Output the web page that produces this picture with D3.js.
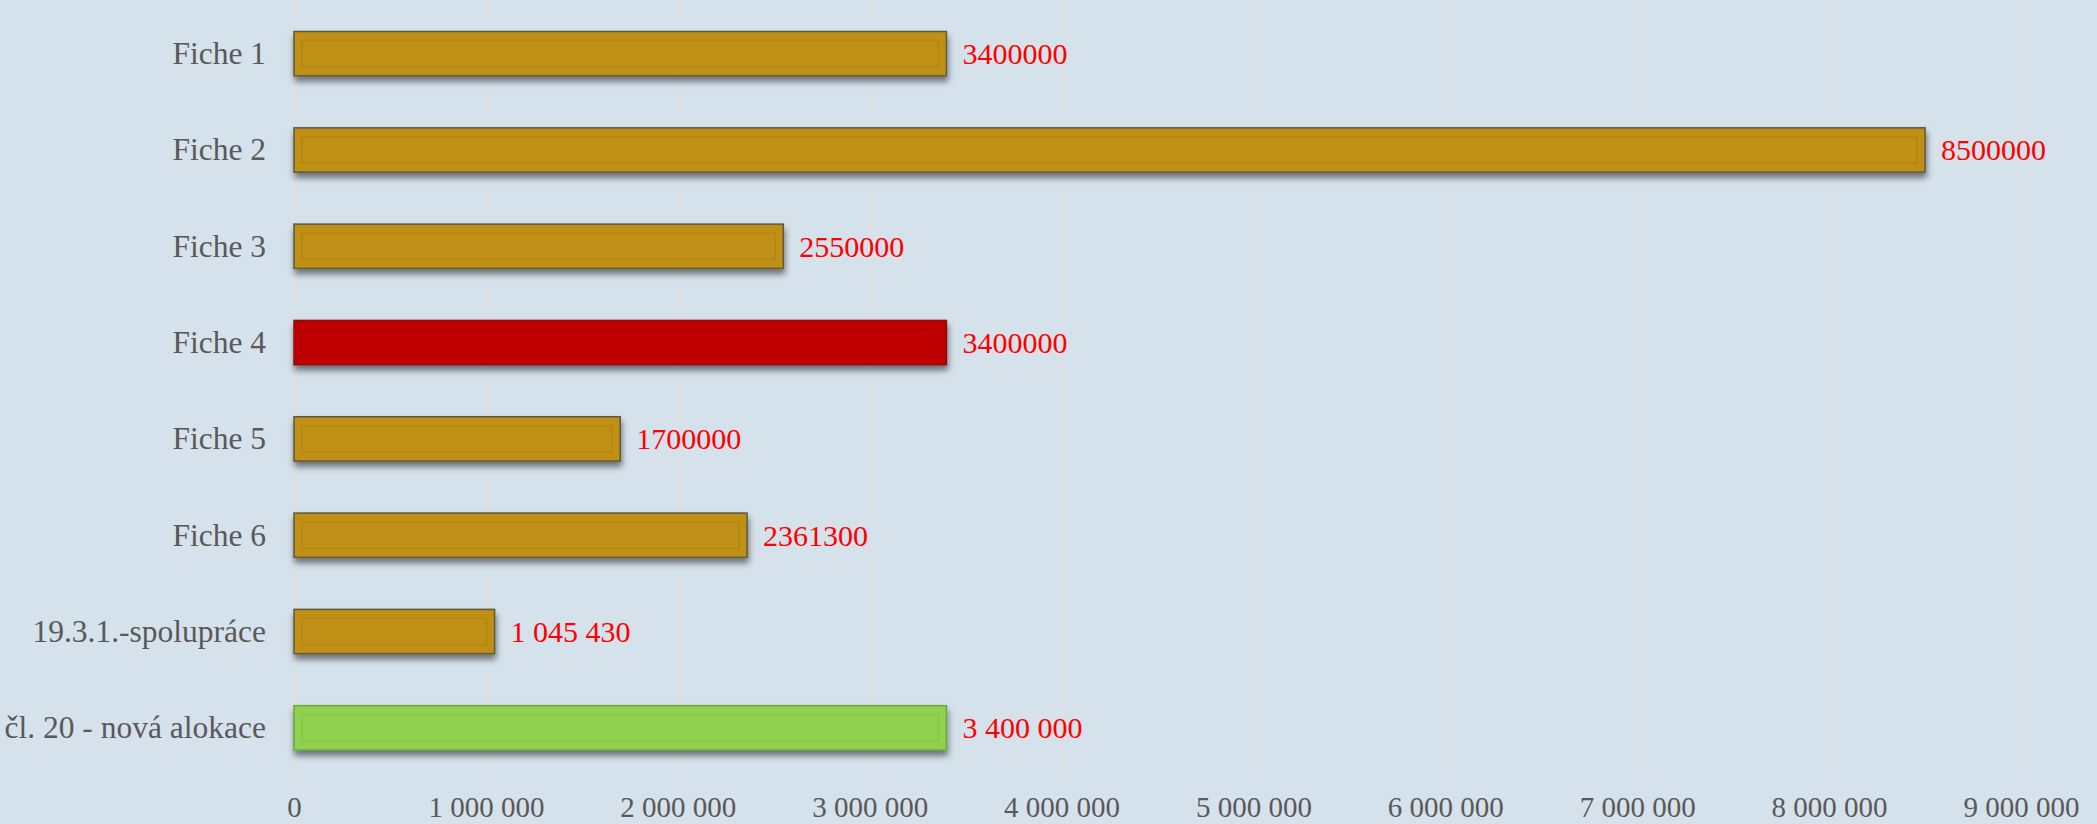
<!DOCTYPE html>
<html>
<head>
<meta charset="utf-8">
<script src="https://cdn.jsdelivr.net/npm/d3@7"></script>
<style>
  html, body { margin: 0; padding: 0; background: #d5e1eb; }
  svg { display: block; }
  .axis text { font-family: "Liberation Serif", serif; font-size: 29px; fill: #595959; }
  .axis.y text { font-size: 31.5px; }
  .grid line { stroke: #e3dede; stroke-width: 1.5; }
</style>
</head>
<body>
<svg id="chart" width="2097" height="824"></svg>
<script>
const categories = ["Fiche 1", "Fiche 2", "Fiche 3", "Fiche 4", "Fiche 5", "Fiche 6", "19.3.1.-spolupráce", "čl. 20 - nová alokace"];
const values = [3400000, 8500000, 2550000, 3400000, 1700000, 2361300, 1045430, 3400000];
const valueLabels = ["3400000", "8500000", "2550000", "3400000", "1700000", "2361300", "1 045 430", "3 400 000"];
const barKinds = ["gold", "gold", "gold", "red", "gold", "gold", "gold", "green"];
const xTicks = [0, 1000000, 2000000, 3000000, 4000000, 5000000, 6000000, 7000000, 8000000, 9000000];

const styles = {
  gold:  { fill: "#bf8f12", stroke: "#5f5a3c", inner: "#b3860f" },
  red:   { fill: "#c00000", stroke: "#8a1010", inner: "#b00000" },
  green: { fill: "#92d050", stroke: "#6aa83a", inner: "#86c548" }
};

const svg = d3.select("#chart");

const x = d3.scaleLinear().domain([0, 9000000]).range([294, 2021]);
const y = d3.scaleBand().domain(categories).range([5.5, 776]).paddingInner(0.54).paddingOuter(0.27);

const fmt = d3.formatLocale({ decimal: ",", thousands: " ", grouping: [3], currency: ["", ""] }).format(",");

// shadow under the bars
const defs = svg.append("defs");
defs.append("filter").attr("id", "shadow")
  .attr("x", "-5%").attr("y", "-30%").attr("width", "110%").attr("height", "170%")
  .append("feDropShadow")
  .attr("dx", 1).attr("dy", 5).attr("stdDeviation", 3)
  .attr("flood-color", "#000").attr("flood-opacity", 0.5);

// grid
svg.append("g")
  .attr("class", "grid")
  .attr("transform", "translate(0,776)")
  .call(d3.axisBottom(x).tickValues(xTicks).tickSize(-776).tickFormat(""))
  .call(g => g.select(".domain").remove());

// x axis labels
svg.append("g")
  .attr("class", "axis x")
  .attr("transform", "translate(0,776)")
  .call(d3.axisBottom(x).tickValues(xTicks).tickSize(0).tickFormat(fmt))
  .call(g => g.select(".domain").remove())
  .call(g => g.selectAll("text").attr("y", 41).attr("dy", 0));

// y axis labels
svg.append("g")
  .attr("class", "axis y")
  .attr("transform", "translate(294,0)")
  .call(d3.axisLeft(y).tickSize(0).tickPadding(28))
  .call(g => g.select(".domain").remove())
  .call(g => g.selectAll("text").attr("dy", "0.33em"));

const bars = svg.selectAll(".bar")
  .data(categories.map((c, i) => ({ cat: c, value: values[i], label: valueLabels[i], kind: barKinds[i] })))
  .enter()
  .append("g")
  .attr("class", "bar");

bars.append("rect")
  .attr("x", x(0))
  .attr("y", d => y(d.cat))
  .attr("width", d => x(d.value) - x(0))
  .attr("height", y.bandwidth())
  .attr("fill", d => styles[d.kind].fill)
  .attr("stroke", d => styles[d.kind].stroke)
  .attr("stroke-width", 1.5)
  .attr("filter", "url(#shadow)");

bars.append("rect")
  .attr("x", x(0) + 8)
  .attr("y", d => y(d.cat) + 9)
  .attr("width", d => x(d.value) - x(0) - 16)
  .attr("height", y.bandwidth() - 18)
  .attr("fill", "none")
  .attr("stroke", d => styles[d.kind].inner)
  .attr("stroke-width", 1.5);

bars.append("text")
  .attr("x", d => x(d.value) + 16)
  .attr("y", d => y(d.cat) + y.bandwidth() / 2)
  .attr("dy", "0.35em")
  .attr("font-family", "Liberation Serif, serif")
  .attr("font-size", 30)
  .attr("fill", "#ff0000")
  .text(d => d.label);
</script>
</body>
</html>
